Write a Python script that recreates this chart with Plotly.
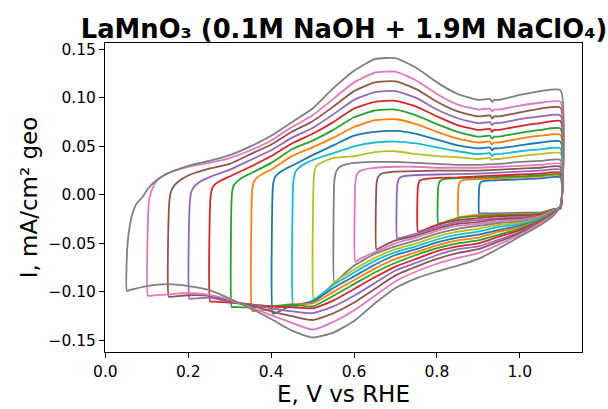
import plotly.graph_objects as go

TITLE = "LaMnO₃ (0.1M NaOH + 1.9M NaClO₄)"
X_LABEL = "E, V vs RHE"
Y_LABEL = "I, mA/cm² geo"
X_TICKS = [0.0, 0.2, 0.4, 0.6, 0.8, 1.0]
Y_TICKS = [-0.15, -0.10, -0.05, 0.00, 0.05, 0.10, 0.15]

# lower switching potentials, in plotting order
LOWER_LIMITS = [0.90, 0.85, 0.80, 0.75, 0.70, 0.65, 0.60, 0.55, 0.50,
                0.45, 0.40, 0.35, 0.30, 0.25, 0.20, 0.15, 0.10, 0.05]
COLORS = ["#1f77b4", "#ff7f0e", "#2ca02c", "#d62728", "#9467bd",
          "#8c564b", "#e377c2", "#7f7f7f", "#bcbd22", "#17becf"]

# ---- anodic (forward) and cathodic (return) branches, (E, I) ----
an_005 = [(0.052,-0.099),(0.052,-0.060),(0.054,-0.048),(0.058,-0.034),(0.065,-0.020),(0.075,-0.009),(0.09,-0.002),(0.1,0.005),(0.12,0.014),(0.15,0.022),(0.2,0.030),(0.25,0.035),(0.3,0.041),(0.35,0.050),(0.4,0.061),(0.45,0.075),(0.5,0.089),(0.55,0.110),(0.6,0.128),(0.65,0.140),(0.7,0.141),(0.75,0.131),(0.8,0.116),(0.85,0.104),(0.9,0.098),(0.928,0.099),(0.933,0.096),(0.938,0.098),(0.95,0.098),(1.0,0.103),(1.05,0.107),(1.098,0.108)]
ca_005 = [(1.098,-0.011),(1.08,-0.022),(1.05,-0.031),(1.0,-0.043),(0.95,-0.055),(0.9,-0.066),(0.85,-0.073),(0.8,-0.079),(0.75,-0.086),(0.7,-0.096),(0.65,-0.112),(0.6,-0.130),(0.55,-0.142),(0.5,-0.147),(0.45,-0.140),(0.4,-0.128),(0.35,-0.117),(0.3,-0.107),(0.25,-0.098),(0.2,-0.094),(0.15,-0.092),(0.1,-0.094),(0.06,-0.098),(0.052,-0.099)]

an_010 = [(0.103,-0.104),(0.103,-0.023),(0.105,-0.008),(0.108,0.000),(0.115,0.008),(0.125,0.015),(0.15,0.0225),(0.2,0.029),(0.25,0.033),(0.3,0.038),(0.35,0.046),(0.4,0.056),(0.45,0.070),(0.5,0.082),(0.55,0.099),(0.6,0.116),(0.65,0.126),(0.7,0.127),(0.75,0.118),(0.8,0.104),(0.85,0.093),(0.9,0.088),(0.928,0.089),(0.933,0.086),(0.938,0.088),(0.95,0.088),(1.0,0.092),(1.05,0.095),(1.098,0.096)]
ca_010 = [(1.098,-0.011),(1.08,-0.021),(1.05,-0.029),(1.0,-0.041),(0.95,-0.051),(0.9,-0.060),(0.85,-0.065),(0.8,-0.071),(0.75,-0.079),(0.7,-0.089),(0.65,-0.104),(0.6,-0.119),(0.55,-0.131),(0.5,-0.139),(0.45,-0.132),(0.4,-0.124),(0.35,-0.116),(0.3,-0.108),(0.25,-0.103),(0.2,-0.101),(0.15,-0.1025),(0.11,-0.104),(0.103,-0.104)]

an_015 = [(0.153,-0.105),(0.153,-0.016),(0.155,-0.004),(0.158,0.003),(0.165,0.009),(0.18,0.015),(0.2,0.020),(0.25,0.027),(0.3,0.032),(0.35,0.042),(0.4,0.052),(0.45,0.065),(0.5,0.076),(0.55,0.091),(0.6,0.107),(0.65,0.116),(0.7,0.117),(0.75,0.109),(0.8,0.096),(0.85,0.086),(0.9,0.081),(0.928,0.082),(0.933,0.079),(0.938,0.081),(0.95,0.081),(1.0,0.085),(1.05,0.089),(1.098,0.090)]
ca_015 = [(1.098,-0.011),(1.08,-0.020),(1.05,-0.028),(1.0,-0.0395),(0.95,-0.048),(0.9,-0.056),(0.85,-0.060),(0.8,-0.066),(0.75,-0.074),(0.7,-0.083),(0.65,-0.097),(0.6,-0.111),(0.55,-0.122),(0.5,-0.129),(0.45,-0.125),(0.4,-0.120),(0.35,-0.114),(0.3,-0.109),(0.25,-0.104),(0.2,-0.1035),(0.16,-0.105),(0.153,-0.105)]

an_020 = [(0.203,-0.107),(0.203,-0.012),(0.205,-0.002),(0.208,0.004),(0.215,0.009),(0.23,0.014),(0.25,0.018),(0.3,0.026),(0.35,0.036),(0.4,0.046),(0.45,0.059),(0.5,0.069),(0.55,0.083),(0.6,0.098),(0.65,0.106),(0.7,0.107),(0.75,0.100),(0.8,0.088),(0.85,0.079),(0.9,0.074),(0.928,0.075),(0.933,0.072),(0.938,0.074),(0.95,0.074),(1.0,0.078),(1.05,0.081),(1.098,0.082)]
ca_020 = [(1.098,-0.012),(1.08,-0.0195),(1.05,-0.0275),(1.0,-0.038),(0.95,-0.046),(0.9,-0.053),(0.85,-0.056),(0.8,-0.062),(0.75,-0.070),(0.7,-0.078),(0.65,-0.091),(0.6,-0.104),(0.55,-0.115),(0.5,-0.122),(0.45,-0.120),(0.4,-0.117),(0.35,-0.113),(0.3,-0.110),(0.25,-0.106),(0.21,-0.107),(0.203,-0.107)]

an_025 = [(0.253,-0.110),(0.253,-0.006),(0.255,0.002),(0.258,0.007),(0.265,0.011),(0.28,0.015),(0.3,0.019),(0.35,0.029),(0.4,0.040),(0.45,0.053),(0.5,0.063),(0.55,0.075),(0.6,0.089),(0.65,0.096),(0.7,0.097),(0.75,0.091),(0.8,0.081),(0.85,0.072),(0.9,0.067),(0.928,0.068),(0.933,0.065),(0.938,0.067),(0.95,0.067),(1.0,0.071),(1.05,0.074),(1.098,0.076)]
ca_025 = [(1.098,-0.012),(1.08,-0.019),(1.05,-0.027),(1.0,-0.0365),(0.95,-0.043),(0.9,-0.050),(0.85,-0.053),(0.8,-0.058),(0.75,-0.066),(0.7,-0.074),(0.65,-0.085),(0.6,-0.097),(0.55,-0.109),(0.5,-0.117),(0.45,-0.116),(0.4,-0.115),(0.35,-0.113),(0.3,-0.111),(0.26,-0.110),(0.253,-0.110)]

an_030 = [(0.305,-0.1156),(0.305,0.000),(0.307,0.006),(0.31,0.010),(0.318,0.014),(0.335,0.019),(0.35,0.022),(0.4,0.033),(0.45,0.047),(0.5,0.056),(0.55,0.067),(0.6,0.080),(0.65,0.087),(0.7,0.088),(0.75,0.082),(0.8,0.073),(0.85,0.065),(0.9,0.060),(0.928,0.061),(0.933,0.058),(0.938,0.060),(0.95,0.060),(1.0,0.064),(1.05,0.067),(1.098,0.0685)]
ca_030 = [(1.098,-0.012),(1.08,-0.0185),(1.05,-0.026),(1.0,-0.035),(0.95,-0.041),(0.9,-0.047),(0.85,-0.050),(0.8,-0.055),(0.75,-0.062),(0.7,-0.070),(0.65,-0.080),(0.6,-0.092),(0.55,-0.104),(0.5,-0.115),(0.45,-0.113),(0.4,-0.115),(0.35,-0.116),(0.31,-0.1156),(0.305,-0.1156)]

an_035 = [(0.354,-0.1197),(0.354,0.004),(0.356,0.010),(0.359,0.014),(0.367,0.018),(0.385,0.023),(0.4,0.026),(0.45,0.040),(0.5,0.049),(0.55,0.059),(0.6,0.070),(0.65,0.077),(0.7,0.078),(0.75,0.073),(0.8,0.065),(0.85,0.058),(0.9,0.054),(0.928,0.055),(0.933,0.052),(0.938,0.054),(0.95,0.054),(1.0,0.058),(1.05,0.061),(1.098,0.062)]
ca_035 = [(1.098,-0.012),(1.08,-0.018),(1.05,-0.0255),(1.0,-0.0335),(0.95,-0.038),(0.9,-0.044),(0.85,-0.047),(0.8,-0.052),(0.75,-0.059),(0.7,-0.066),(0.65,-0.076),(0.6,-0.088),(0.55,-0.100),(0.5,-0.112),(0.45,-0.113),(0.4,-0.118),(0.36,-0.1197),(0.354,-0.1197)]

an_040 = [(0.404,-0.1224),(0.404,0.008),(0.406,0.014),(0.409,0.018),(0.417,0.022),(0.435,0.027),(0.45,0.030),(0.5,0.041),(0.55,0.051),(0.6,0.061),(0.65,0.065),(0.7,0.066),(0.75,0.063),(0.8,0.057),(0.85,0.051),(0.9,0.048),(0.928,0.049),(0.933,0.046),(0.938,0.048),(0.95,0.048),(1.0,0.051),(1.05,0.054),(1.098,0.055)]
ca_040 = [(1.098,-0.012),(1.08,-0.0175),(1.05,-0.025),(1.0,-0.032),(0.95,-0.036),(0.9,-0.041),(0.85,-0.044),(0.8,-0.049),(0.75,-0.056),(0.7,-0.062),(0.65,-0.072),(0.6,-0.084),(0.55,-0.096),(0.5,-0.110),(0.45,-0.114),(0.41,-0.122),(0.404,-0.1224)]

an_045 = [(0.4535,-0.1156),(0.4535,0.014),(0.456,0.020),(0.459,0.024),(0.467,0.028),(0.485,0.033),(0.5,0.036),(0.55,0.043),(0.6,0.050),(0.65,0.054),(0.7,0.055),(0.75,0.053),(0.8,0.049),(0.85,0.045),(0.9,0.042),(0.928,0.043),(0.933,0.040),(0.938,0.042),(0.95,0.042),(1.0,0.045),(1.05,0.047),(1.098,0.048)]
ca_045 = [(1.098,-0.012),(1.08,-0.017),(1.05,-0.024),(1.0,-0.0305),(0.95,-0.033),(0.9,-0.038),(0.85,-0.041),(0.8,-0.046),(0.75,-0.053),(0.7,-0.059),(0.65,-0.068),(0.6,-0.080),(0.55,-0.093),(0.5,-0.109),(0.46,-0.115),(0.4535,-0.1156)]

an_050 = [(0.503,-0.110),(0.503,0.019),(0.505,0.025),(0.508,0.029),(0.516,0.032),(0.535,0.036),(0.55,0.038),(0.6,0.040),(0.65,0.044),(0.7,0.045),(0.75,0.042),(0.8,0.040),(0.85,0.039),(0.9,0.037),(0.928,0.038),(0.933,0.036),(0.938,0.037),(0.95,0.037),(1.0,0.040),(1.05,0.042),(1.098,0.043)]
ca_050 = [(1.098,-0.012),(1.08,-0.0165),(1.05,-0.0235),(1.0,-0.029),(0.95,-0.031),(0.9,-0.035),(0.85,-0.038),(0.8,-0.043),(0.75,-0.050),(0.7,-0.056),(0.65,-0.065),(0.6,-0.077),(0.55,-0.091),(0.51,-0.109),(0.503,-0.110)]

an_055 = [(0.5525,-0.0915),(0.5525,0.015),(0.555,0.021),(0.558,0.025),(0.566,0.029),(0.585,0.032),(0.6,0.033),(0.65,0.034),(0.7,0.034),(0.75,0.033),(0.8,0.032),(0.85,0.031),(0.9,0.031),(0.95,0.032),(1.0,0.034),(1.05,0.035),(1.098,0.036)]
ca_055 = [(1.098,-0.012),(1.08,-0.016),(1.05,-0.023),(1.0,-0.0275),(0.95,-0.029),(0.9,-0.032),(0.85,-0.035),(0.8,-0.040),(0.75,-0.047),(0.7,-0.053),(0.65,-0.061),(0.6,-0.073),(0.56,-0.088),(0.5525,-0.0915)]

an_060 = [(0.603,-0.069),(0.603,0.012),(0.605,0.018),(0.608,0.022),(0.616,0.025),(0.635,0.027),(0.65,0.028),(0.7,0.029),(0.75,0.029),(0.8,0.028),(0.85,0.028),(0.9,0.028),(0.95,0.029),(1.0,0.030),(1.05,0.031),(1.098,0.032)]
ca_060 = [(1.098,-0.013),(1.08,-0.0158),(1.05,-0.022),(1.0,-0.026),(0.95,-0.027),(0.9,-0.030),(0.85,-0.032),(0.8,-0.037),(0.75,-0.044),(0.7,-0.050),(0.65,-0.059),(0.61,-0.067),(0.603,-0.069)]

an_065 = [(0.654,-0.0564),(0.654,0.010),(0.656,0.016),(0.659,0.019),(0.667,0.022),(0.685,0.0235),(0.7,0.024),(0.75,0.0245),(0.8,0.025),(0.85,0.025),(0.9,0.025),(0.95,0.026),(1.0,0.027),(1.05,0.028),(1.098,0.029)]
ca_065 = [(1.098,-0.013),(1.08,-0.0156),(1.05,-0.0215),(1.0,-0.0245),(0.95,-0.025),(0.9,-0.028),(0.85,-0.030),(0.8,-0.035),(0.75,-0.042),(0.7,-0.047),(0.66,-0.055),(0.654,-0.0564)]

an_070 = [(0.704,-0.045),(0.704,0.009),(0.706,0.014),(0.709,0.017),(0.717,0.019),(0.735,0.020),(0.75,0.0205),(0.8,0.021),(0.85,0.0215),(0.9,0.022),(0.95,0.023),(1.0,0.024),(1.05,0.025),(1.098,0.026)]
ca_070 = [(1.098,-0.013),(1.08,-0.0154),(1.05,-0.021),(1.0,-0.023),(0.95,-0.024),(0.9,-0.026),(0.85,-0.028),(0.8,-0.033),(0.75,-0.040),(0.71,-0.0445),(0.704,-0.045)]

an_075 = [(0.754,-0.038),(0.754,0.008),(0.756,0.012),(0.759,0.015),(0.767,0.016),(0.785,0.017),(0.8,0.0175),(0.85,0.018),(0.9,0.019),(0.95,0.020),(1.0,0.021),(1.05,0.022),(1.098,0.023)]
ca_075 = [(1.098,-0.014),(1.08,-0.0152),(1.05,-0.020),(1.0,-0.0215),(0.95,-0.022),(0.9,-0.024),(0.85,-0.026),(0.8,-0.031),(0.76,-0.0375),(0.754,-0.038)]

an_080 = [(0.803,-0.0295),(0.803,0.008),(0.805,0.012),(0.808,0.0145),(0.816,0.016),(0.835,0.017),(0.85,0.0172),(0.9,0.0178),(0.95,0.0185),(1.0,0.019),(1.05,0.020),(1.098,0.021)]
ca_080 = [(1.098,-0.014),(1.08,-0.015),(1.05,-0.0195),(1.0,-0.0205),(0.95,-0.021),(0.9,-0.022),(0.85,-0.024),(0.81,-0.029),(0.803,-0.0295)]

an_085 = [(0.852,-0.0227),(0.852,0.008),(0.854,0.012),(0.857,0.014),(0.865,0.0155),(0.885,0.016),(0.9,0.0162),(0.95,0.017),(1.0,0.018),(1.05,0.019),(1.098,0.020)]
ca_085 = [(1.098,-0.014),(1.08,-0.015),(1.05,-0.0187),(1.0,-0.0195),(0.95,-0.020),(0.9,-0.0205),(0.86,-0.0225),(0.852,-0.0227)]

an_090 = [(0.902,-0.0192),(0.902,0.008),(0.904,0.012),(0.907,0.0135),(0.915,0.0145),(0.935,0.015),(0.95,0.0152),(1.0,0.016),(1.05,0.017),(1.098,0.018)]
ca_090 = [(1.098,-0.014),(1.08,-0.015),(1.05,-0.018),(1.0,-0.0185),(0.95,-0.019),(0.91,-0.0192),(0.902,-0.0192)]

CURVES = [(an_090, ca_090), (an_085, ca_085), (an_080, ca_080), (an_075, ca_075),
          (an_070, ca_070), (an_065, ca_065), (an_060, ca_060), (an_055, ca_055),
          (an_050, ca_050), (an_045, ca_045), (an_040, ca_040), (an_035, ca_035),
          (an_030, ca_030), (an_025, ca_025), (an_020, ca_020), (an_015, ca_015),
          (an_010, ca_010), (an_005, ca_005)]

FONT = "DejaVu Sans"

fig = go.Figure()
for i, (lim, (an, ca)) in enumerate(zip(LOWER_LIMITS, CURVES)):
    pts = an + ca
    fig.add_trace(go.Scatter(
        x=[p[0] for p in pts], y=[p[1] for p in pts], mode="lines",
        line=dict(color=COLORS[i % 10], width=1.8, shape="spline", smoothing=0.5),
        name=f"{lim:.2f} V", showlegend=False, hoverinfo="skip"))

axis_common = dict(showgrid=False, zeroline=False, showline=True, linecolor="black",
                   linewidth=1, mirror=True, ticks="outside", ticklen=5, tickwidth=1,
                   tickcolor="black", automargin=False,
                   tickfont=dict(family=FONT, size=15.5, color="black"))

fig.update_xaxes(range=[-0.001, 1.150], tickvals=X_TICKS, tickformat=".1f",
                 title=dict(text=X_LABEL, font=dict(family=FONT, size=23, color="black"), standoff=6),
                 **axis_common)
fig.update_yaxes(range=[-0.162, 0.1566], tickvals=Y_TICKS, tickformat=".2f",
                 title=dict(text=Y_LABEL, font=dict(family=FONT, size=23, color="black"), standoff=4),
                 **axis_common)

fig.update_layout(
    width=608, height=409,
    margin=dict(l=105, r=26, t=43, b=57),
    paper_bgcolor="white", plot_bgcolor="white",
    font=dict(family=FONT, color="black"),
    title=dict(text="<b>" + TITLE + "</b>", font=dict(family=FONT, size=25.8, color="black"),
               x=344 / 608, xanchor="center", y=1 - 29 / 409, yanchor="middle", yref="container"),
)

fig.write_html("out.html", config={"displayModeBar": False},
               post_script="document.body.style.margin='0';")
